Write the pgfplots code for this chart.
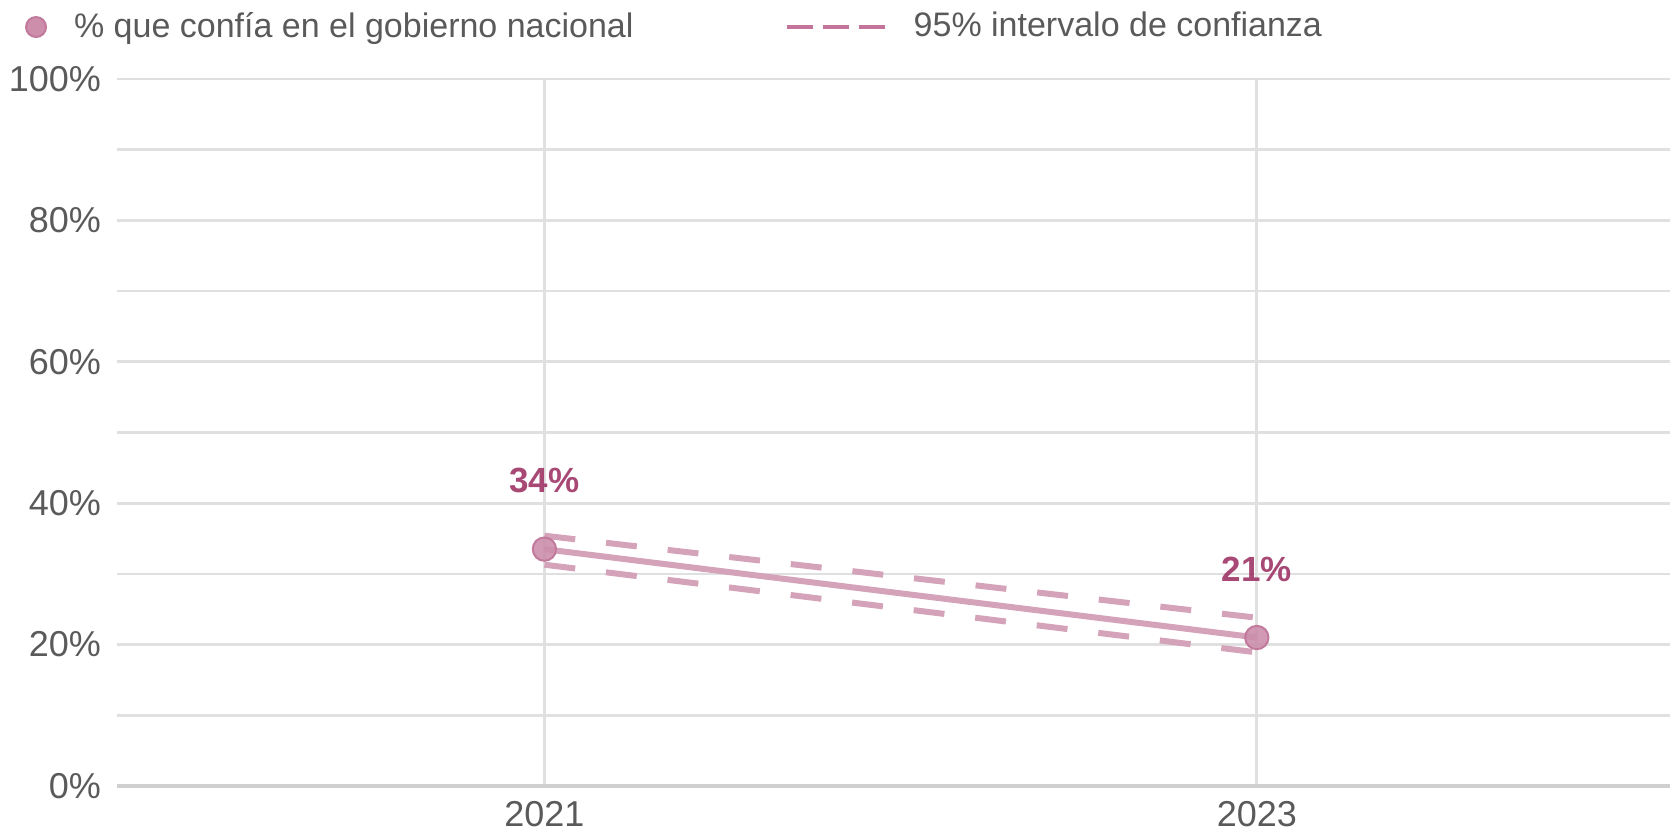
\documentclass[border=0pt]{standalone}
\usepackage{fontspec}
\setmainfont{Liberation Sans}
\usepackage{pgfplots}
\pgfplotsset{compat=1.18}
\definecolor{linec}{HTML}{D4A2B9}
\definecolor{markc}{HTML}{CC8EAB}
\definecolor{markd}{HTML}{C27A9C}
\definecolor{legc}{HTML}{C4739A}
\definecolor{labc}{HTML}{9E3566}
\definecolor{gridc}{HTML}{E0E0E0}
\definecolor{basec}{HTML}{D0D0D0}
\definecolor{tickc}{HTML}{5A5A5A}
\begin{document}
\begin{tikzpicture}[x=1pt,y=1pt]
\begin{axis}[
  at={(35.1pt,13.2pt)}, anchor=south west,
  scale only axis, width=465.9pt, height=212.1pt,
  xmin=2019.8, xmax=2024.16, ymin=0, ymax=100,
  xtick={2021,2023}, xticklabels={2021,2023},
  ytick={0,20,40,60,80,100}, yticklabels={0\%,20\%,40\%,60\%,80\%,100\%},
  minor ytick={10,30,50,70,90},
  grid=both,
  major grid style={draw=gridc, line width=0.8pt},
  minor grid style={draw=gridc, line width=0.8pt},
  major tick length=0pt, minor tick length=0pt,
  axis line style={draw=none},
  extra y ticks={0}, extra y tick labels={},
  extra y tick style={grid=major, major grid style={draw=basec, line width=1.4pt}},
  tick label style={font=\fontsize{10.8}{12}\selectfont, text=tickc},
  yticklabel style={xshift=-1.3pt},
  xticklabel style={yshift=-1pt},
  clip=false,
  legend columns=2,
  legend style={draw=none, fill=none, inner sep=0pt, outer sep=0pt,
    at={(-0.0592,1.0735)}, anchor=west,
    font=\fontsize{10.2}{12}\selectfont, text=tickc,
    /tikz/every odd column/.append style={column sep=8.1pt},
    /tikz/every even column/.append style={column sep=45.3pt},
    nodes={inner xsep=0pt}},
  legend cell align=left,
]
\addlegendimage{legend image code/.code={\draw[markd, fill=markc, line width=0.6pt] (3pt,0pt) circle (3pt);}}
\addlegendentry{\makebox[168pt][l]{\% que confía en el gobierno nacional}}
\addlegendimage{legend image code/.code={\draw[legc, line width=1.1pt, dash pattern=on 7.8pt off 3pt] (0pt,0pt) -- (29.4pt,0pt);}}
\addlegendentry{95\% intervalo de confianza}

\addplot[forget plot, linec, line width=1.8pt, dash pattern=on 9.3pt off 9.3pt] coordinates {(2021,35.4) (2023,23.8)};
\addplot[forget plot, linec, line width=1.8pt, dash pattern=on 9.3pt off 9.3pt] coordinates {(2021,31.3) (2023,18.9)};
\addplot[forget plot, linec, line width=1.8pt, mark=*, mark size=3.5pt,
  mark options={draw=markd, fill=markc, line width=0.6pt, fill opacity=0.9},
  nodes near coords, point meta=explicit symbolic,
  nodes near coords style={anchor=center, yshift=20.5pt, text=labc, font=\fontsize{10.5}{12}\selectfont\bfseries}]
  coordinates {(2021,33.5) [34\%] (2023,21.0) [21\%]};
\end{axis}
\pgfresetboundingbox
\path[use as bounding box] (0,0) rectangle (501,249);
\end{tikzpicture}
\end{document}
